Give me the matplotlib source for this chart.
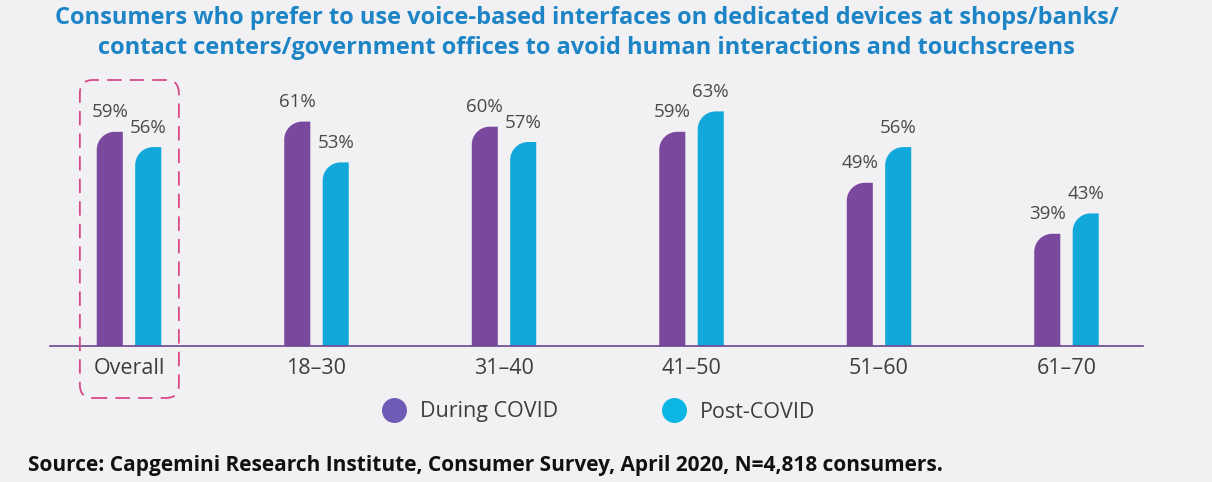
import numpy as np
import matplotlib.pyplot as plt
from matplotlib.path import Path
from matplotlib.patches import PathPatch, FancyBboxPatch
from matplotlib.lines import Line2D
from matplotlib.transforms import IdentityTransform

plt.rcParams["font.family"] = ["Open Sans", "DejaVu Sans"]

# ---------------- data ----------------
groups = ["Overall", "18\u201330", "31\u201340", "41\u201350", "51\u201360", "61\u201370"]
during_covid = [59, 61, 60, 59, 49, 39]
post_covid = [56, 53, 57, 63, 56, 43]
series_names = ["During COVID", "Post-COVID"]
title = ("Consumers who prefer to use voice-based interfaces on dedicated devices at shops/banks/\n"
         "contact centers/government offices to avoid human interactions and touchscreens")
source = "Source: Capgemini Research Institute, Consumer Survey, April 2020, N=4,818 consumers."

# ---------------- style ----------------
BG = "#f1f1f4"
BAR_COLORS = ["#7a489d", "#12a8da"]
LEGEND_COLORS = ["#6f5bb5", "#0bb6e5"]
AXIS_COLOR = "#6b4592"
TEXT = "#3d3d3d"
Y_FLOOR = 17          # value axis starts here (truncated, as in the original)
BAR_W = 0.139
OFFSET = 0.1025
CORNER_PX = 18

W, H = 1212, 482
fig = plt.figure(figsize=(W / 100, H / 100), dpi=100, facecolor=BG)
ax = fig.add_axes([50 / W, 1 - 346 / H, (1143 - 50) / W, (346 - 80) / H])
ax.set_facecolor(BG)

x = np.arange(len(groups))
ax.set_xlim((50 - 129) / 187.5, (1143 - 129) / 187.5)
ax.set_ylim(Y_FLOOR, Y_FLOOR + (346 - 80) / 5.1)

bars = []
for vals, off, col in [(during_covid, -OFFSET, BAR_COLORS[0]), (post_covid, OFFSET, BAR_COLORS[1])]:
    b = ax.bar(x + off, np.array(vals) - Y_FLOOR, bottom=Y_FLOOR, width=BAR_W, color=col)
    bars.append(b)

# rounded top-left corner: replace each rectangle by a path
px_x = ax.bbox.width / np.diff(ax.get_xlim())[0]
px_y = ax.bbox.height / np.diff(ax.get_ylim())[0]
rx, ry = CORNER_PX / px_x, CORNER_PX / px_y
k = 0.5523
for b in bars:
    for r in b.patches:
        x0, y0 = r.get_x(), r.get_y()
        x1, y1 = x0 + r.get_width(), y0 + r.get_height()
        verts = [(x0, y0), (x0, y1 - ry),
                 (x0, y1 - ry + k * ry), (x0 + rx - k * rx, y1), (x0 + rx, y1),
                 (x1, y1), (x1, y0), (x0, y0)]
        codes = [Path.MOVETO, Path.LINETO, Path.CURVE4, Path.CURVE4, Path.CURVE4,
                 Path.LINETO, Path.LINETO, Path.CLOSEPOLY]
        ax.add_patch(PathPatch(Path(verts, codes), facecolor=r.get_facecolor(),
                               edgecolor="none"))
        r.set_visible(False)
        ax.annotate(f"{y1:.0f}%", (x0 + r.get_width() / 2, y1), xytext=(0, 7.5),
                    textcoords="offset points", ha="center", va="bottom",
                    fontsize=13.5, color="#4a4a4a")

for s in ["top", "right", "left"]:
    ax.spines[s].set_visible(False)
ax.spines["bottom"].set_color(AXIS_COLOR)
ax.spines["bottom"].set_linewidth(1.2)
ax.set_yticks([])
ax.set_xticks(x, groups, fontsize=15.5, color=TEXT)
ax.tick_params(axis="x", length=0, pad=8.5)

# dashed highlight round "Overall"
left_px = ax.transData.transform((x[0] - 0.262, 0))[0]
right_px = ax.transData.transform((x[0] + 0.266, 0))[0]
box = FancyBboxPatch((left_px, H - 398), right_px - left_px, 398 - 80,
                     boxstyle="round,pad=0,rounding_size=13", transform=IdentityTransform(),
                     fill=False, edgecolor="#d8498a", linewidth=1.3,
                     linestyle=(0, (8, 4.5)), clip_on=False)
fig.add_artist(box)

handles = [Line2D([], [], marker="o", linestyle="none", markersize=18,
                  markerfacecolor=c, markeredgecolor="none") for c in LEGEND_COLORS]
fig.legend(handles, series_names, loc="center", bbox_to_anchor=(594 / W, 1 - 412 / H),
           ncol=2, frameon=False, fontsize=15.5, handletextpad=0.2, columnspacing=4.4,
           labelcolor=TEXT)

fig.text(0.484, 1 - 33 / H, title, ha="center", va="center", fontsize=17,
         fontweight="bold", color="#1d84c6", linespacing=1.3)
fig.text(28 / W, 1 - 465 / H, source, ha="left", va="center", fontsize=15,
         fontweight="bold", color="#111111")

fig.savefig("out.png", dpi=100, facecolor=BG)
